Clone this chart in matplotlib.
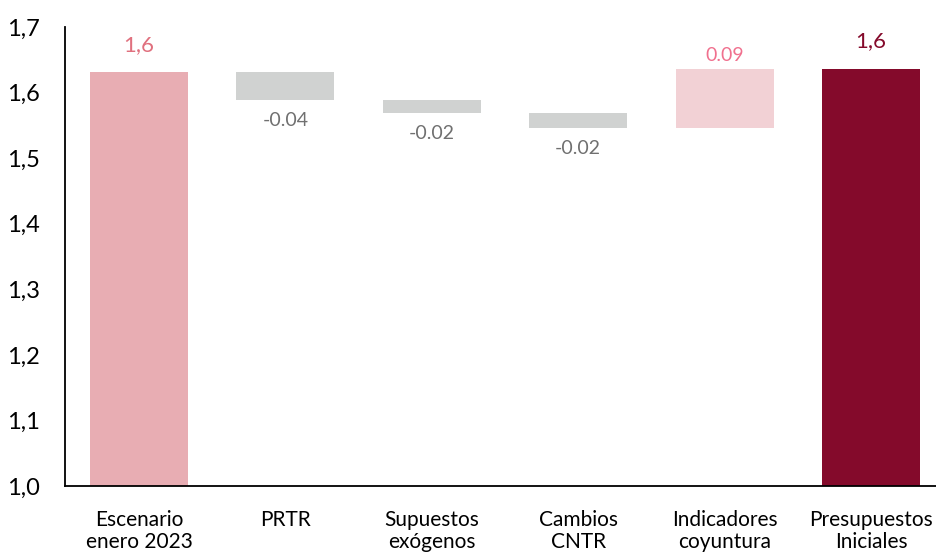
import matplotlib
matplotlib.use("Agg")
import matplotlib.pyplot as plt
import matplotlib.ticker as ticker
import numpy as np

categories = ["Escenario\nenero 2023", "PRTR", "Supuestos\nexógenos",
              "Cambios\nCNTR", "Indicadores\ncoyuntura", "Presupuestos\nIniciales"]
start_value = 1.632
changes = [-0.043, -0.020, -0.023, 0.090]
end_value = start_value + sum(changes)

col_start = "#E8ADB3"
col_neg = "#D0D2D1"
col_pos = "#F2D1D5"
col_end = "#840A2B"

plt.rcParams["font.family"] = ["Lato", "DejaVu Sans"]

fig = plt.figure(figsize=(9.37, 5.55), dpi=100)
ax = fig.add_axes([65 / 937, (555 - 486) / 555, 1 - 65 / 937, (486 - 27) / 555])

x = np.arange(len(categories))
width = 0.67
base = 1.0

# opening total
ax.bar(x[0], start_value - base, bottom=base, width=width, color=col_start)
ax.text(x[0], start_value + 0.025, f"{start_value:.1f}".replace(".", ","),
        ha="center", va="bottom", fontsize=16, color="#E0707E")

# floating steps
level = start_value
for i, d in enumerate(changes, start=1):
    lo, hi = (level + d, level) if d < 0 else (level, level + d)
    ax.bar(x[i], hi - lo, bottom=lo, width=width,
           color=col_neg if d < 0 else col_pos)
    if d < 0:
        ax.text(x[i], lo - 0.018, f"{d:.2f}", ha="center", va="top",
                fontsize=14, color="#707070")
    else:
        ax.text(x[i], hi + 0.008, f"{d:.2f}", ha="center", va="bottom",
                fontsize=14, color="#F0708E")
    level += d

# closing total
ax.bar(x[-1], end_value - base, bottom=base, width=width, color=col_end)
ax.text(x[-1], end_value + 0.027, f"{end_value:.1f}".replace(".", ","),
        ha="center", va="bottom", fontsize=16, color=col_end)

ax.set_ylim(1.0, 1.7)
ax.set_xlim(-0.505, 5.45)
ax.set_yticks(np.arange(1.0, 1.71, 0.1))
ax.yaxis.set_major_formatter(ticker.FuncFormatter(lambda v, _: f"{v:.1f}".replace(".", ",")))
ax.set_xticks(x)
ax.set_xticklabels(categories, fontsize=15, linespacing=1.15)
ax.tick_params(axis="y", length=0, pad=18, labelsize=17)
ax.tick_params(axis="x", length=0, pad=17)

for s in ("top", "right"):
    ax.spines[s].set_visible(False)
for s in ("left", "bottom"):
    ax.spines[s].set_linewidth(1.3)
    ax.spines[s].set_color("black")

fig.savefig("out.png", dpi=100, facecolor="white")
